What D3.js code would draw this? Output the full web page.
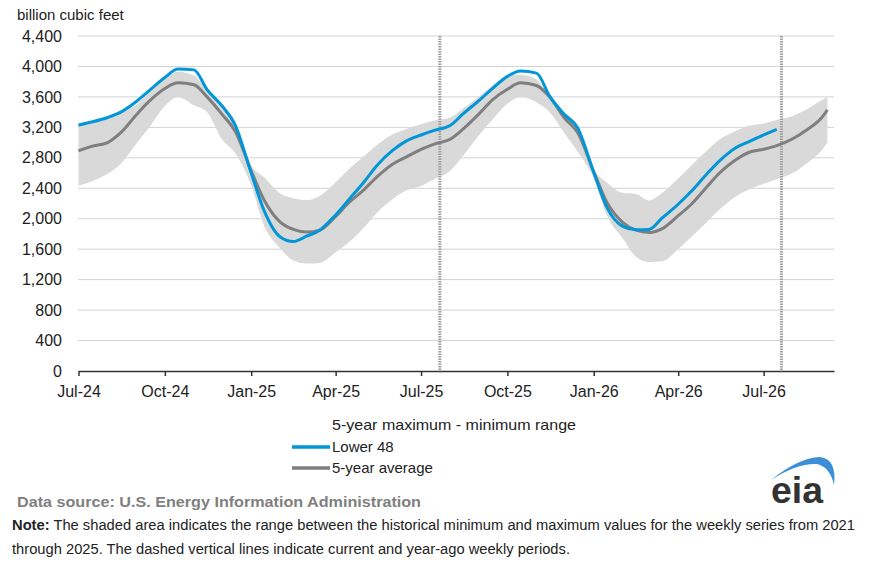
<!DOCTYPE html>
<html>
<head>
<meta charset="utf-8">
<script src="https://cdn.jsdelivr.net/npm/d3@7"></script>
<style>
  body { margin: 0; background: #fff; }
  svg { display: block; font-family: "Liberation Sans", Arial, sans-serif; }
</style>
</head>
<body>
<svg id="chart" width="879" height="574"></svg>
<script>
// half-monthly readings, Jul-2024 .. Sep-2026
var dates = [
  "2024-07-01","2024-07-15","2024-08-01","2024-08-15","2024-09-01","2024-09-15",
  "2024-10-01","2024-10-15","2024-11-01","2024-11-15","2024-12-01","2024-12-15",
  "2025-01-01","2025-01-15","2025-02-01","2025-02-15","2025-03-01","2025-03-15",
  "2025-04-01","2025-04-15","2025-05-01","2025-05-15","2025-06-01","2025-06-15",
  "2025-07-01","2025-07-15","2025-08-01","2025-08-15","2025-09-01","2025-09-15",
  "2025-10-01","2025-10-15","2025-11-01","2025-11-15","2025-12-01","2025-12-15",
  "2026-01-01","2026-01-15","2026-02-01","2026-02-15","2026-03-01","2026-03-15",
  "2026-04-01","2026-04-15","2026-05-01","2026-05-15","2026-06-01","2026-06-15",
  "2026-07-01","2026-07-15","2026-08-01","2026-08-15","2026-09-01","2026-09-07"
];
// Lower 48 working gas in storage (bcf)
var lower48 = [
  3230, 3270, 3330, 3400, 3543, 3690, 3855, 3965, 3955, 3695, 3480, 3230,
  2600, 2100, 1760, 1700, 1770, 1850, 2050, 2250, 2480, 2700, 2900, 3020,
  3100, 3160, 3225, 3380, 3555, 3710, 3870, 3940, 3913, 3610, 3365, 3190,
  2608, 2150, 1900, 1855, 1860, 2010, 2190, 2360, 2580, 2760, 2930, 3010,
  3100, 3173, null, null, null, null
];
// 5-year average
var avg5 = [
  2890, 2950, 3000, 3130, 3370, 3550, 3710, 3785, 3760, 3600, 3370, 3150,
  2630, 2240, 1955, 1860, 1825, 1850, 2030, 2210, 2380, 2550, 2720, 2810,
  2910, 2980, 3043, 3180, 3380, 3560, 3700, 3785, 3750, 3600, 3320, 3130,
  2620, 2216, 1950, 1850, 1820, 1870, 2040, 2190, 2410, 2600, 2770, 2870,
  2912, 2960, 3050, 3160, 3330, 3430
];
// 5-year maximum
var max5 = [
  3240, 3270, 3310, 3390, 3500, 3660, 3830, 3930, 3880, 3680, 3450, 3240,
  2700, 2540, 2330, 2270, 2245, 2300, 2480, 2650, 2820, 2970, 3110, 3180,
  3240, 3290, 3330, 3450, 3610, 3750, 3870, 3890, 3830, 3580, 3400, 3230,
  2650, 2477, 2340, 2325, 2240, 2340, 2530, 2700, 2890, 3040, 3150, 3220,
  3252, 3300, 3350, 3430, 3560, 3600
];
// 5-year minimum
var min5 = [
  2434, 2490, 2590, 2720, 2990, 3210, 3480, 3600, 3490, 3400, 3040, 2860,
  2440, 1900, 1610, 1450, 1412, 1420, 1560, 1690, 1880, 2080, 2260, 2370,
  2430, 2520, 2630, 2830, 3100, 3300, 3510, 3600, 3530, 3400, 3120, 2880,
  2530, 2042, 1740, 1500, 1430, 1440, 1600, 1760, 1950, 2120, 2290, 2380,
  2460, 2520, 2600, 2720, 2900, 3000
];
// current and year-ago weeks
var markerDates = ["2025-07-21", "2026-07-20"];
var xTicks = ["2024-07-01","2024-10-01","2025-01-01","2025-04-01","2025-07-01",
              "2025-10-01","2026-01-01","2026-04-01","2026-07-01"];
var yTicks = [0, 400, 800, 1200, 1600, 2000, 2400, 2800, 3200, 3600, 4000, 4400];

var parse = d3.timeParse("%Y-%m-%d");
var rows = dates.map(function(d, i) {
  return {date: parse(d), l48: lower48[i], avg: avg5[i], hi: max5[i], lo: min5[i]};
});

var svg = d3.select("#chart");
var x = d3.scaleTime()
    .domain([parse("2024-07-01"), parse("2026-09-14")])
    .range([78.5, 834]);
var y = d3.scaleLinear().domain([0, 4400]).range([371, 36]);

// gridlines
svg.append("g").selectAll("line")
  .data(yTicks.filter(function(v) { return v > 0; }))
  .join("line")
    .attr("x1", 78).attr("x2", 834)
    .attr("y1", function(d) { return y(d); })
    .attr("y2", function(d) { return y(d); })
    .attr("stroke", "#d2d2d2")
    .attr("stroke-width", 1);

// range band
var band = d3.area()
    .curve(d3.curveMonotoneX)
    .x(function(d) { return x(d.date); })
    .y0(function(d) { return y(d.lo); })
    .y1(function(d) { return y(d.hi); });
svg.append("path").datum(rows)
    .attr("d", band)
    .attr("fill", "#d9d9d9");

// dashed week markers
svg.append("g").selectAll("line")
  .data(markerDates)
  .join("line")
    .attr("x1", function(d) { return x(parse(d)); })
    .attr("x2", function(d) { return x(parse(d)); })
    .attr("y1", y(4400)).attr("y2", y(0))
    .attr("stroke", "#a0a0a0")
    .attr("stroke-width", 3)
    .attr("stroke-dasharray", "1.5,1");

var avgLine = d3.line()
    .curve(d3.curveMonotoneX)
    .x(function(d) { return x(d.date); })
    .y(function(d) { return y(d.avg); });
svg.append("path").datum(rows)
    .attr("d", avgLine)
    .attr("fill", "none")
    .attr("stroke", "#7f7f7f")
    .attr("stroke-width", 3);

var l48Line = d3.line()
    .curve(d3.curveMonotoneX)
    .defined(function(d) { return d.l48 != null; })
    .x(function(d) { return x(d.date); })
    .y(function(d) { return y(d.l48); });
svg.append("path").datum(rows)
    .attr("d", l48Line)
    .attr("fill", "none")
    .attr("stroke", "#0096d7")
    .attr("stroke-width", 3);

// axes
var yAxis = svg.append("g")
    .attr("transform", "translate(78,0)")
    .call(d3.axisLeft(y).tickValues(yTicks).tickFormat(d3.format(",")).tickSize(0).tickPadding(16));
yAxis.select(".domain").remove();
yAxis.selectAll("text").attr("font-size", 16).attr("fill", "#222")
    .attr("font-family", "'Liberation Sans', Arial, sans-serif");

var xAxis = svg.append("g")
    .attr("transform", "translate(0,371)")
    .call(d3.axisBottom(x).tickValues(xTicks.map(parse))
      .tickFormat(d3.timeFormat("%b-%y")).tickSizeInner(5).tickSizeOuter(0).tickPadding(10));
xAxis.select(".domain").attr("stroke", "#333").attr("stroke-width", 1.5);
xAxis.selectAll(".tick line").attr("stroke", "#333").attr("stroke-width", 1.5);
xAxis.selectAll("text").attr("font-size", 16).attr("fill", "#222")
    .attr("font-family", "'Liberation Sans', Arial, sans-serif");

// unit label
svg.append("text").attr("x", 17).attr("y", 20)
    .attr("font-size", 15).attr("fill", "#222")
    .text("billion cubic feet");

// legend
var legend = svg.append("g").attr("font-size", 15).attr("fill", "#222");
legend.append("text").attr("x", 332).attr("y", 430)
    .attr("textLength", 244).attr("lengthAdjust", "spacingAndGlyphs")
    .text("5-year maximum - minimum range");
[{label: "Lower 48", color: "#0096d7", ty: 452},
 {label: "5-year average", color: "#7f7f7f", ty: 473}].forEach(function(it) {
  legend.append("line")
      .attr("x1", 292).attr("x2", 330)
      .attr("y1", it.ty - 5).attr("y2", it.ty - 5)
      .attr("stroke", it.color).attr("stroke-width", 3.5);
  legend.append("text").attr("x", 332).attr("y", it.ty).text(it.label);
});

// source + note
svg.append("text").attr("x", 17).attr("y", 507)
    .attr("font-size", 15).attr("font-weight", "bold").attr("fill", "#808080")
    .attr("textLength", 404).attr("lengthAdjust", "spacingAndGlyphs")
    .text("Data source:  U.S. Energy Information Administration");

var note1 = svg.append("text").attr("x", 12).attr("y", 530)
    .attr("font-size", 14).attr("fill", "#222")
    .attr("textLength", 843).attr("lengthAdjust", "spacingAndGlyphs");
note1.append("tspan").attr("font-weight", "bold").text("Note:");
note1.append("tspan").text(" The shaded area indicates the range between the historical minimum and maximum values for the weekly series from 2021");
svg.append("text").attr("x", 12).attr("y", 554)
    .attr("font-size", 14).attr("fill", "#222")
    .attr("textLength", 558).attr("lengthAdjust", "spacingAndGlyphs")
    .text("through 2025. The dashed vertical lines indicate current and year-ago weekly periods.");

// eia logo
var logo = svg.append("g");
logo.append("path")
    .attr("d", "M771,480 Q798,458 820,457 Q837,459 834,485 Q830,467 817,464 Q797,463 771,480 Z")
    .attr("fill", "#3a8fd8");
logo.append("text").attr("x", 771).attr("y", 503)
    .attr("font-size", 37).attr("font-weight", "bold").attr("fill", "#333")
    .attr("textLength", 52).attr("lengthAdjust", "spacingAndGlyphs")
    .text("eia");
</script>
</body>
</html>
